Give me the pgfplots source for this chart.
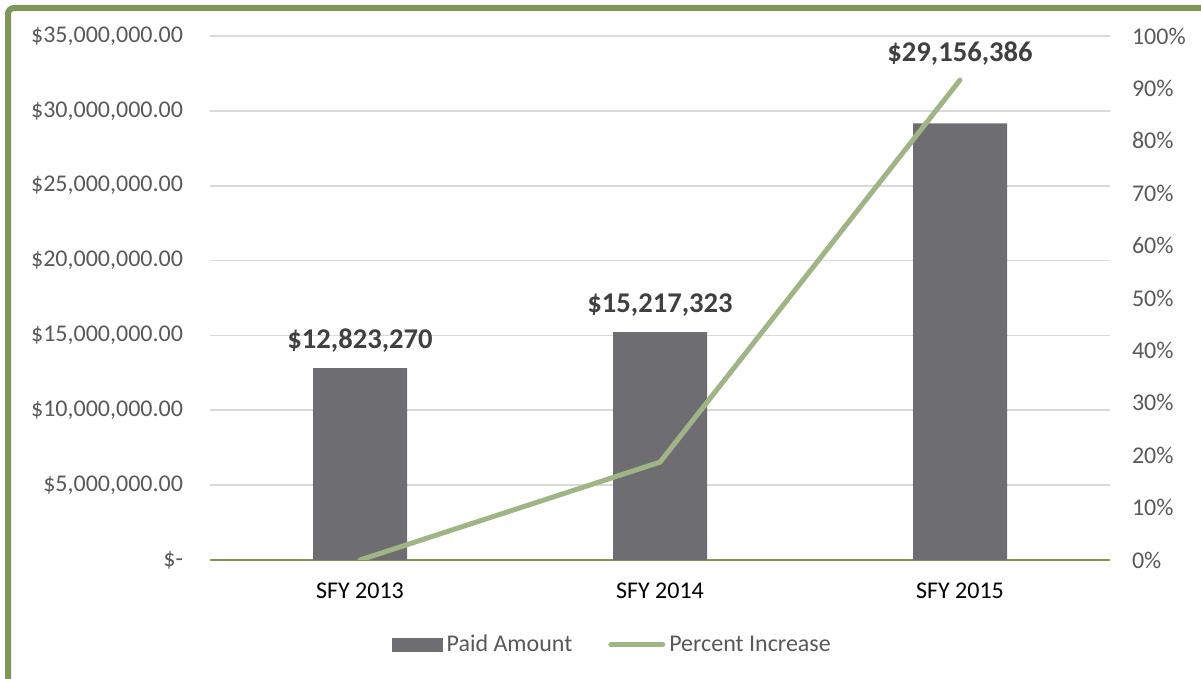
\documentclass[border=0pt]{standalone}
\usepackage{fontspec}
\setmainfont{Carlito}
\usepackage{pgfplots}
\pgfplotsset{compat=1.18}
\definecolor{barc}{HTML}{6E6D72}
\definecolor{linec}{HTML}{A0B585}
\definecolor{framec}{HTML}{7F955A}
\definecolor{basec}{HTML}{7E9A56}
\definecolor{gridc}{HTML}{D9D9D9}
\definecolor{tickc}{HTML}{595959}
\definecolor{lblc}{HTML}{404040}

\begin{document}
\begin{tikzpicture}
\useasboundingbox (0,0) rectangle (600.5pt,339.5pt);
\draw[framec, line width=3pt, rounded corners=3pt] (4pt,-5pt) -- (4pt,335.5pt) -- (610pt,335.5pt);

\pgfplotsset{every axis/.append style={
  width=450pt, height=262pt, scale only axis,
  at={(105pt,59.5pt)}, anchor=south west,
  xmin=-0.5, xmax=2.5,
  font=\fontsize{12}{14}\selectfont,
  major tick length=0pt,
}}

% paid amount (bars, left axis)
\begin{axis}[
  ybar, bar width=47pt,
  ymin=0, ymax=35000000,
  scaled y ticks=false,
  ytick={0,5000000,10000000,15000000,20000000,25000000,30000000,35000000},
  yticklabels={\$-,{\$5,000,000.00},{\$10,000,000.00},{\$15,000,000.00},{\$20,000,000.00},{\$25,000,000.00},{\$30,000,000.00},{\$35,000,000.00}},
  yticklabel style={text=tickc, xshift=-10pt},
  xtick={0,1,2},
  xticklabels={SFY 2013,SFY 2014,SFY 2015},
  xticklabel style={text=black, yshift=-7.7pt},
  axis x line*=bottom, axis y line*=left,
  x axis line style={draw=basec, line width=0.9pt, -},
  y axis line style={draw=none},
  ymajorgrids, grid style={gridc, line width=0.8pt},
  legend style={at={(0.448,-0.162)}, anchor=center, draw=none,
    legend columns=2, text=tickc,
    /tikz/every even column/.append style={column sep=16pt}},
]
\addplot[fill=barc, draw=none,
  legend image code/.code={\fill[barc] (0pt,-3.5pt) rectangle (25.5pt,3.5pt);}]
  coordinates {(0,12823270) (1,15217323) (2,29156386)};
\addlegendentry{Paid Amount}
\addlegendimage{legend image code/.code={\draw[linec, line width=2.5pt, line cap=round] (1pt,0pt) -- (27pt,0pt);}}
\addlegendentry{Percent Increase}

\node[anchor=base, yshift=10pt, text=lblc, font=\fontsize{14.3}{16}\selectfont\bfseries] at (axis cs:0,12823270) {\$12,823,270};
\node[anchor=base, yshift=10pt, text=lblc, font=\fontsize{14.3}{16}\selectfont\bfseries] at (axis cs:1,15217323) {\$15,217,323};
\node[anchor=base, yshift=31pt, text=lblc, font=\fontsize{14.3}{16}\selectfont\bfseries] at (axis cs:2,29156386) {\$29,156,386};
\end{axis}

% percent increase (line, right axis)
\begin{axis}[
  ymin=0, ymax=1,
  ytick={0,0.1,0.2,0.3,0.4,0.5,0.6,0.7,0.8,0.9,1},
  yticklabels={0\%,10\%,20\%,30\%,40\%,50\%,60\%,70\%,80\%,90\%,100\%},
  yticklabel style={text=tickc, xshift=7.5pt},
  axis y line*=right, y axis line style={draw=none},
  axis x line=none, xtick=\empty,
]
\addplot[linec, line width=2.5pt, line cap=round, line join=round, mark=none]
  coordinates {(0,0) (1,0.1867) (2,0.9160)};
\end{axis}
\end{tikzpicture}
\end{document}
